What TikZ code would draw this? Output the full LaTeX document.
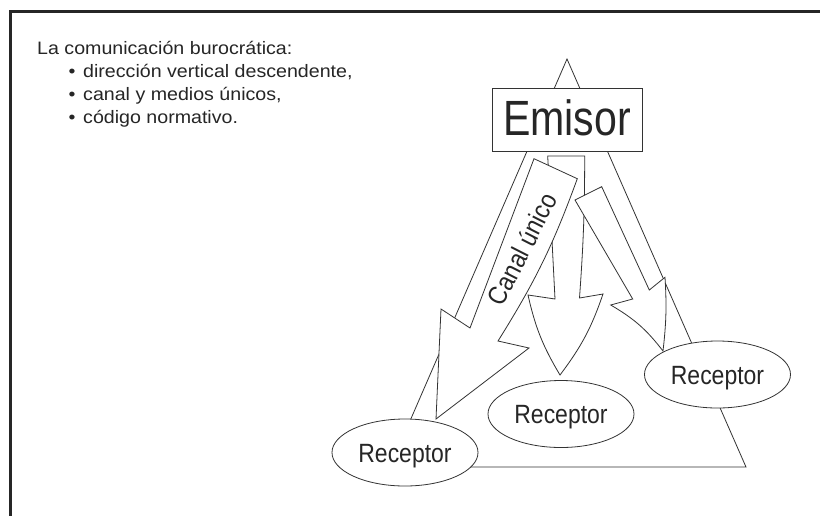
\documentclass[tikz,border=0pt]{standalone}
\usepackage{fontspec}
\setmainfont{Liberation Sans}
\newfontfamily\narrowfont[FakeStretch=0.87]{Liberation Sans}
\newfontfamily\emisorfont[FakeStretch=0.83]{Liberation Sans}
\newfontfamily\listfont[FakeStretch=1.09]{Liberation Sans}
\usetikzlibrary{shapes.geometric}
\begin{document}
\begin{tikzpicture}[x=1pt,y=-1pt,
  ln/.style={draw=black!80, line width=0.8pt, line join=miter},
  blockarrow/.style={ln, fill=white},
  recep/.style={ellipse, ln, fill=white, minimum width=146pt, minimum height=67pt,
    inner sep=0pt, font=\narrowfont\fontsize{26.4}{30}\selectfont, text=black!85,
    text height=19pt, text depth=0pt},
  listtext/.style={anchor=base west, inner sep=0pt, text=black!85,
    font=\listfont\fontsize{18}{20}\selectfont},
]
\useasboundingbox (0,0) rectangle (820,515);
\fill[white] (0,0) rectangle (820,515);
% frame
\coordinate (fB) at (10.5,520);
\coordinate (fC) at (10.5,11.3);
\coordinate (fR) at (825,11.3);
\draw[line width=2.6pt, draw=black!85] (fB) -- (fC) -- (fR);

% list text
\node[listtext] (t0) at (37,54.3) {La comunicación burocrática:};
\node[listtext] (b1) at (68.5,77.5) {•};
\node[listtext] (t1) at (83,77.5) {dirección vertical descendente,};
\node[listtext] (b2) at (68.5,100.3) {•};
\node[listtext] (t2) at (83,100.3) {canal y medios únicos,};
\node[listtext] (b3) at (68.5,123) {•};
\node[listtext] (t3) at (83,123) {código normativo.};

% triangle
\coordinate (tA) at (567,59);
\coordinate (tR) at (746,467);
\coordinate (tL) at (390,467);
\draw[ln] (tA) -- (tR) -- (tL) -- cycle;

% middle arrow
\draw[blockarrow] (547.7,156) -- (584.7,156) to[bend left=2] (579.5,298) -- (603,294)
  to[bend left=9] (560,375) to[bend left=9] (528,295) -- (555,299) -- cycle;
% right arrow
\draw[blockarrow] (575,200) -- (601.7,186.7) -- (649.3,290) -- (665,277.3)
  to[bend left=5] (663,351) to[bend right=11] (610.7,305) -- (632.7,299) -- cycle;
% left arrow (canal unico)
\draw[blockarrow] (534,158.7) -- (577.3,178.7) to[bend left=6] (498,341) -- (529,348)
  -- (436,419) -- (441,309) -- (470,328) -- cycle;
\node[rotate=63, inner sep=0pt, font=\narrowfont\fontsize{26.4}{30}\selectfont,
  text=black!85, text height=19pt, text depth=0pt] (canal) at (522,249) {Canal único};

% emisor
\node[ln, fill=white, rectangle, minimum width=150pt, minimum height=63.6pt, inner sep=0pt,
  font=\emisorfont\fontsize{49.5}{55}\selectfont, text=black!85,
  text height=35.7pt, text depth=5.2pt] (em) at (567,119.8) {Emisor};

% receptors
\node[recep] (r1) at (405,452.5) {Receptor};
\node[recep] (r2) at (561,414) {Receptor};
\node[recep] (r3) at (717.5,374.5) {Receptor};
\end{tikzpicture}
\end{document}
